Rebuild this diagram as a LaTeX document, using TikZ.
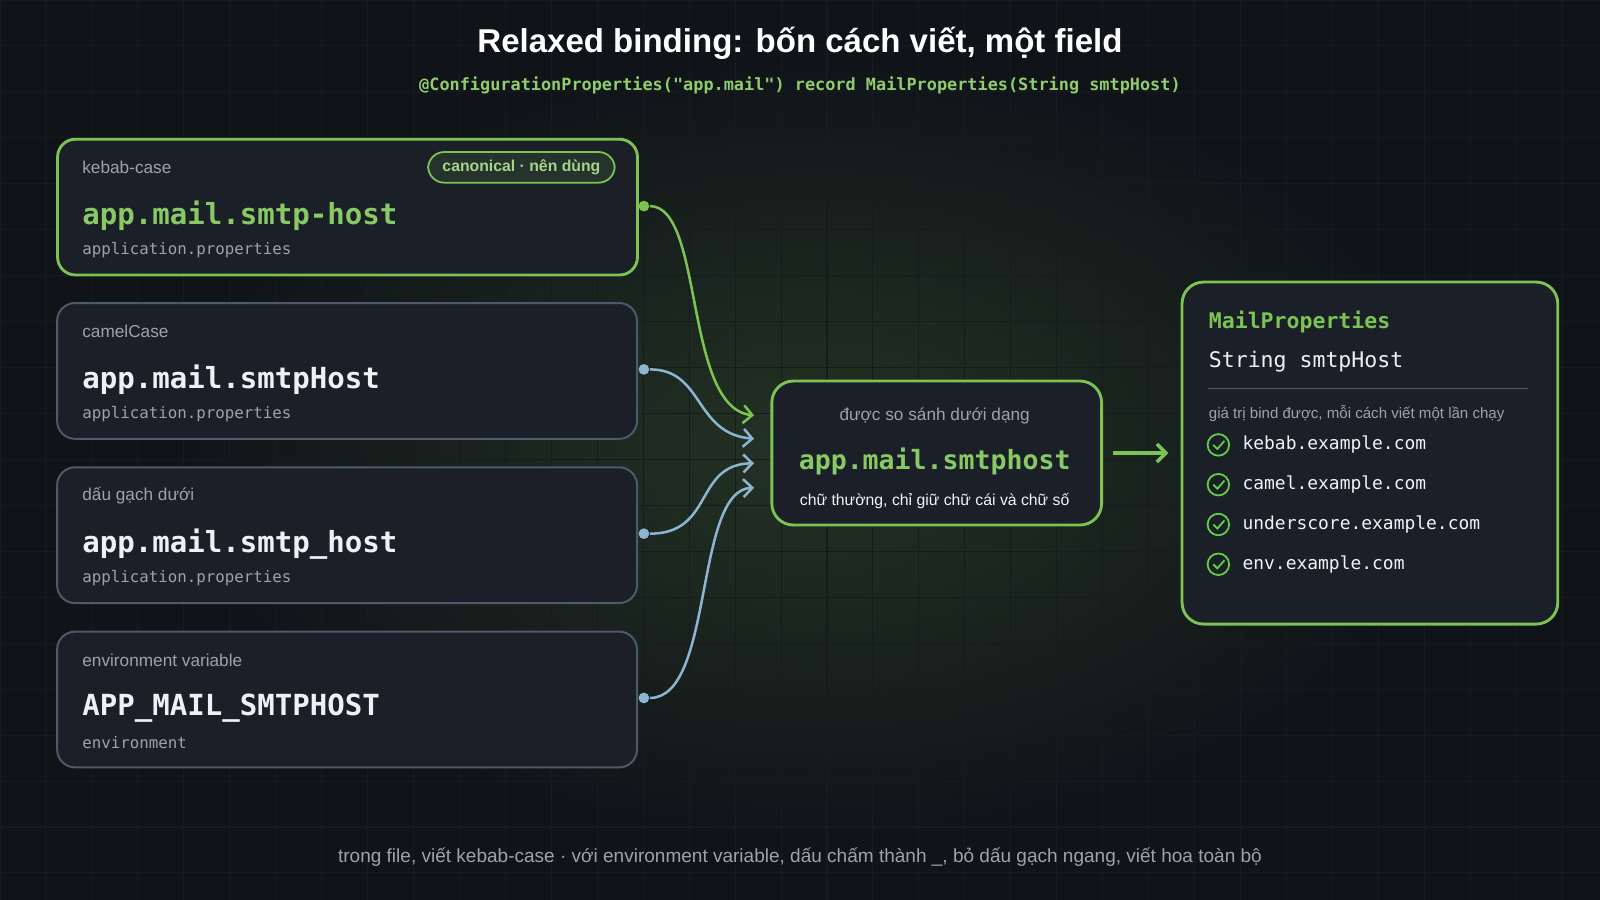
\documentclass[tikz,border=0pt]{standalone}
\usepackage{fontspec}
\setmainfont{Liberation Sans}
\setsansfont{Liberation Sans}
\setmonofont{DejaVu Sans Mono}
\usetikzlibrary{positioning,arrows.meta}
\definecolor{bg}{HTML}{101419}
\definecolor{boxbg}{HTML}{1A1F28}
\definecolor{edge}{HTML}{4C5A6A}
\definecolor{grn}{HTML}{7CC353}
\definecolor{blu}{HTML}{8DB4D0}
\definecolor{txt}{HTML}{EEF1F4}
\definecolor{muted}{HTML}{9AA3AE}
\tikzset{
  card/.style={draw=edge,line width=0.55pt,fill=boxbg,rounded corners=5pt,minimum width=5.68cm,minimum height=1.33cm,anchor=north west,inner sep=0pt},
  hot/.style={card,draw=grn,line width=0.8pt},
  kind/.style={anchor=west,inner sep=0pt,text=muted,font=\fontsize{4.8}{6}\selectfont\sffamily},
  key/.style={anchor=west,inner sep=0pt,text=txt,font=\fontsize{8.1}{10}\selectfont\ttfamily\bfseries},
  src/.style={anchor=west,inner sep=0pt,text=muted,font=\fontsize{4.4}{5}\selectfont\ttfamily},
  dot/.style={circle,inner sep=0pt,minimum size=3pt},
  link/.style={line width=0.7pt,-{Straight Barb[length=2.5pt,width=5pt]}},
  val/.style={anchor=west,inner sep=0pt,text=txt!85,font=\fontsize{5}{6}\selectfont\ttfamily},
  ok/.style={circle,draw=grn!80!green,line width=0.5pt,minimum size=6pt,inner sep=0pt}
}
\begin{document}
\begin{tikzpicture}[x=0.01cm,y=-0.01cm]
  %background
  \fill[bg] (0,0) rectangle (1568,882);
  \useasboundingbox (0,0) rectangle (1568,882);
  \shade[inner color=grn!18!bg,outer color=bg] (800,440) ellipse (620 and 380);
  \draw[white!3!bg,line width=0.3pt,step=0.45cm] (0,0) grid (1568,882);

  %title
  \node[text=white,font=\fontsize{9.2}{10}\selectfont\bfseries] (title) at (784,42) {Relaxed binding: bốn cách viết, một field};
  \node[text=grn!85!white,font=\fontsize{4.7}{5}\selectfont\ttfamily\bfseries] (sub) at (784,84) {@ConfigurationProperties("app.mail") record MailProperties(String smtpHost)};

  %cards
  \node[hot] (kebab) at (55,135) {};
  \node[card] (camel) at (55,296) {};
  \node[card] (under) at (55,457) {};
  \node[card] (env) at (55,618) {};

  \node[kind] at (80,164) {kebab-case};
  \node[key,text=grn!90!white] at (80,211) {app.mail.smtp-host};
  \node[src] at (80,245) {application.properties};
  \node[draw=grn,line width=0.5pt,fill=grn!12!boxbg,rounded corners=4.5pt,text=grn!70!white,font=\fontsize{4.4}{5}\selectfont\bfseries,minimum height=0.3cm,inner xsep=4pt,inner ysep=0pt] (canon) at (511,164) {canonical · nên dùng};

  \node[kind] at (80,325) {camelCase};
  \node[key] at (80,372) {app.mail.smtpHost};
  \node[src] at (80,406) {application.properties};

  \node[kind] at (80,486) {dấu gạch dưới};
  \node[key] at (80,533) {app.mail.smtp\_host};
  \node[src] at (80,567) {application.properties};

  \node[kind] at (80,647) {environment variable};
  \node[key] at (80,694) {APP\_MAIL\_SMTPHOST};
  \node[src] at (80,728) {environment};

  %center
  \node[hot,minimum width=3.23cm,minimum height=1.41cm,rounded corners=6pt] (norm) at (755,372) {};
  \node[kind,anchor=center] at (916,408) {được so sánh dưới dạng};
  \node[key,anchor=center,text=grn!90!white,font=\fontsize{7.4}{9}\selectfont\ttfamily\bfseries] at (916,452) {app.mail.smtphost};
  \node[kind,anchor=center,text=txt!80,font=\fontsize{4.4}{5}\selectfont\sffamily] at (916,491) {chữ thường, chỉ giữ chữ cái và chữ số};

  %result
  \node[hot,minimum width=3.68cm,minimum height=3.35cm,rounded corners=6pt] (mp) at (1157,275) {};
  \node[anchor=west,inner sep=0pt,text=grn,font=\fontsize{6}{7}\selectfont\ttfamily\bfseries] at (1184,316) {MailProperties};
  \node[anchor=west,inner sep=0pt,text=txt,font=\fontsize{6}{7}\selectfont\ttfamily] at (1184,354) {String smtpHost};
  \draw[edge,line width=0.4pt] (1184,381) -- (1497,381);
  \node[kind,font=\fontsize{4.2}{5}\selectfont\sffamily] at (1184,405) {giá trị bind được, mỗi cách viết một lần chạy};
  \foreach \y/\v in {436/kebab.example.com,475/camel.example.com,514/underscore.example.com,553/env.example.com}{
    \node[ok] at (1194,\y) {};
    \draw[grn!80!green,line width=0.5pt] (1189,\y) -- (1193,\y+4) -- (1200,\y-4);
    \node[val] at (1217,\y) {\v};
  }

  %dots and links
  \node[dot,fill=grn] (d1) at (631,202) {};
  \node[dot,fill=blu] (d2) at (631,362) {};
  \node[dot,fill=blu] (d3) at (631,523) {};
  \node[dot,fill=blu] (d4) at (631,684) {};
  \coordinate (t1) at (739,407);
  \coordinate (t2) at (739,430);
  \coordinate (t3) at (739,454);
  \coordinate (t4) at (739,478);
  \draw[link,grn] (d1) .. controls (690,202) and (670,400) .. (t1);
  \draw[link,blu] (d2) .. controls (690,362) and (680,425) .. (t2);
  \draw[link,blu] (d3) .. controls (700,523) and (680,455) .. (t3);
  \draw[link,blu] (d4) .. controls (700,684) and (680,480) .. (t4);
  \draw[link,grn,line width=1pt] (norm.east) ++(10,0) -- ++(54,0);

  %footer
  \node[text=muted,font=\fontsize{5.3}{6}\selectfont] (foot) at (784,840) {trong file, viết kebab-case · với environment variable, dấu chấm thành \_, bỏ dấu gạch ngang, viết hoa toàn bộ};
\end{tikzpicture}
\end{document}
